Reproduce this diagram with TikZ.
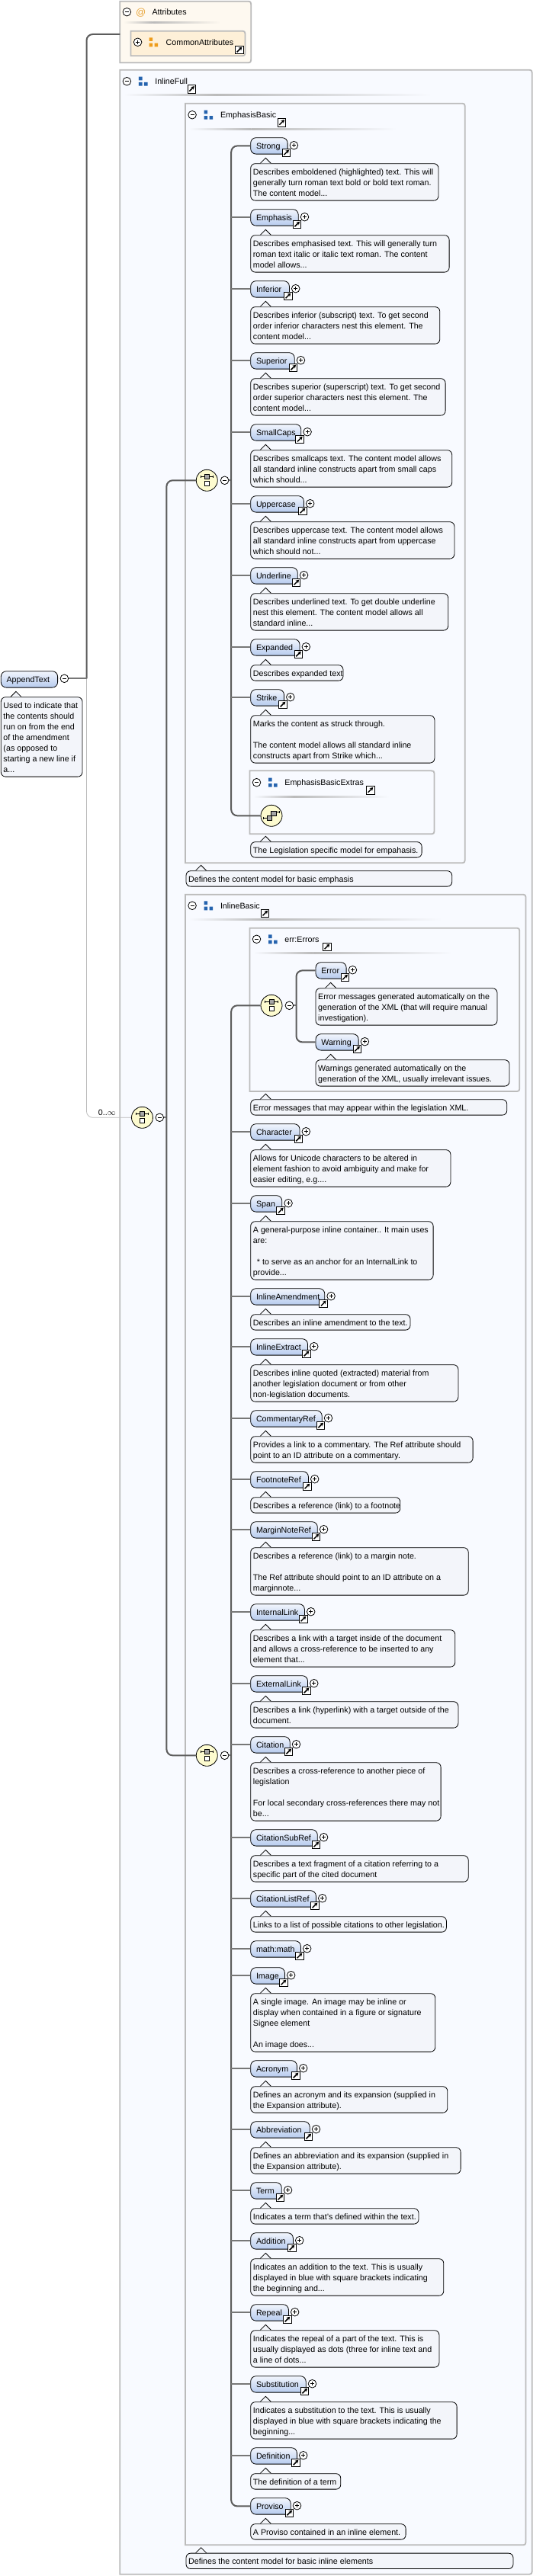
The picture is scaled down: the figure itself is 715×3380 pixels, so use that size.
\documentclass[tikz,border=0pt]{standalone}
\usepackage{fontspec}
\setmainfont{Liberation Sans}
\usetikzlibrary{arrows.meta}

\definecolor{grpline}{HTML}{BBBBBB}
\definecolor{grpfill}{HTML}{F8FAFF}
\definecolor{attrfill}{HTML}{FEF9F0}
\definecolor{commfill}{HTML}{FEF0D8}
\definecolor{notefill}{HTML}{F3F5FA}
\definecolor{elemtop}{HTML}{F2F6FD}
\definecolor{elembot}{HTML}{B6CBEE}
\definecolor{markfill}{HTML}{FDFBCF}
\definecolor{trunkcol}{HTML}{5C5C5C}
\definecolor{branchcol}{HTML}{777777}
\definecolor{blueicon}{HTML}{2563AE}
\definecolor{orangeicon}{HTML}{EE9C1A}
\definecolor{atcol}{HTML}{E8A63C}

\newcommand{\dgfont}{\fontsize{10.7}{14}\selectfont}

\tikzset{
    x=1pt, y=-1pt,
    every node/.style={font=\dgfont, text=black},
    grpbox/.style={draw=grpline, line width=1.8pt},
    trunk/.style={draw=trunkcol, line width=2pt, rounded corners=8pt},
    branch/.style={draw=branchcol, line width=1.9pt},
    thinline/.style={draw=grpline, line width=0.8pt, rounded corners=8pt},
    elemnode/.style={draw=black, line width=0.8pt, rounded corners=7pt, inner sep=0pt,
        anchor=north west, minimum height=21.4pt, text height=9pt, text depth=1pt,
        top color=elemtop, bottom color=elembot},
    notenode/.style={draw=black, line width=0.8pt, rounded corners=6pt, fill=notefill,
        inner xsep=3.2pt, inner ysep=3.2pt, anchor=north west},
    titletext/.style={anchor=west, inner sep=0pt, text height=9pt, text depth=1pt},
    pmplus/.style={circle, draw=black, fill=white, line width=0.8pt, minimum size=10.6pt, inner sep=0pt,
        path picture={\draw[line width=0.8pt] (-2.6,0) -- (2.6,0) (0,-2.6) -- (0,2.6);}},
    pmminus/.style={circle, draw=black, fill=white, line width=0.8pt, minimum size=10.6pt, inner sep=0pt,
        path picture={\draw[line width=0.8pt] (-2.6,0) -- (2.6,0);}},
    linkbox/.style={draw=black, fill=white, line width=0.8pt, minimum size=10.6pt, inner sep=0pt,
        path picture={\draw[line width=1.5pt, -{Stealth[length=4.2pt,width=5pt]}] (-3,3) -- (3.6,-3.6);}},
    grpicon/.style={minimum size=13pt, inner sep=0pt,
        path picture={\fill[#1] (-6,-6) rectangle (-1.4,-1.3) (-6,1.3) rectangle (-1.4,6) (1,1.3) rectangle (5.6,6);}},
    seqmark/.style={circle, draw=black, fill=markfill, line width=0.8pt, minimum size=28pt, inner sep=0pt,
        path picture={
            \draw[line width=0.8pt] (-8.3,-6.6) -- (-8.3,-3.8) (-8.3,-5.2) -- (8.3,-5.2) (8.3,-6.6) -- (8.3,-3.8);
            \draw[line width=0.6pt, fill=gray!70] (-3,-8) rectangle (3,-2.4);
            \draw[line width=0.8pt, fill=white] (-3,0.8) rectangle (3,6.8);}},
    choicemark/.style={circle, draw=black, fill=markfill, line width=0.8pt, minimum size=28pt, inner sep=0pt,
        path picture={
            \draw[line width=0.8pt] (-10.6,1.4) -- (-10.6,4.2) (-10.6,2.8) -- (-6,2.8) (10.6,-6) -- (10.6,-3.2) (10.6,-4.6) -- (6,-4.6);
            \draw[line width=0.6pt, fill=gray!70] (-0.5,-5.8) rectangle (5.8,0.4);
            \draw[line width=0.6pt, fill=gray!70] (-6,-0.4) rectangle (0.2,5.8);}}
}

% right hand corners of a group box are round
\newcommand{\grpframe}[5]{%
    \pgfmathsetmacro\grpa{#3-7}
    \pgfmathsetmacro\grpb{#2+7}
    \pgfmathsetmacro\grpc{#4-7}
    \draw[grpbox, fill=#5] (#1,#2) -- (\grpa,#2) .. controls (#3,#2) .. (#3,\grpb) -- (#3,\grpc)
        .. controls (#3,#4) .. (\grpa,#4) -- (#1,#4) -- cycle;
}
% fades out at both ends, darkest about a third along
\newcommand{\sepline}[4]{%
    \pgfmathsetmacro\sepm{#1+0.3*(#2-(#1))}
    \shade[left color=#4, right color=grpline] (#1,#3-1) rectangle (\sepm,#3+1);
    \shade[left color=grpline, right color=#4] (\sepm,#3-1) rectangle (#2,#3+1);
}
\newcommand{\grphead}[6]{%
    \node[pmminus] (pm#1) at (#3+9.1,#4) {};
    \node[grpicon=blueicon] (ic#1) at (#3+30.6,#4) {};
    \node[titletext] (ti#1) at (#3+45.8,#4) {#2};
    \node[linkbox] (lk#1) at (#5,#4+10) {};
    \sepline{#3+5}{#6}{#4+18.3}{grpfill}
}
\newcommand{\notebox}[5]{%
    \pgfmathsetmacro\notew{#4-#2-6.4}
    \node[notenode] (#1) at (#2,#3) {\makebox[\notew pt][l]{\setbox\strutbox=\hbox{\vrule height 11.2pt depth 2.8pt width 0pt}\begin{tabular}{@{}l@{}}#5\end{tabular}}};
    \fill[notefill] ([xshift=13pt]#1.north west) -- ([xshift=20pt,yshift=7pt]#1.north west) -- ([xshift=27pt]#1.north west) -- cycle;
    \draw[line width=0.8pt] ([xshift=13pt]#1.north west) -- ([xshift=20pt,yshift=7pt]#1.north west) -- ([xshift=27pt]#1.north west);
}
\newcommand{\elem}[5]{%
    \pgfmathsetmacro\elemw{#5-#3}
    \node[elemnode, minimum width=\elemw pt] (el#1) at (#3,#4) {\makebox[\elemw pt][l]{\hspace{7.3pt}#2}};
    \node[pmplus] (pl#1) at (#5+8.7,#4+10.4) {};
    \node[linkbox] (lk#1) at (#5-1.4,#4+20) {};
}
\newcommand{\elemnote}[7]{%
    \elem{#1}{#2}{#3}{#4}{#5}
    \notebox{nt#1}{#3}{#4+34}{#6}{#7}
}

\begin{document}
\begin{tikzpicture}
    \useasboundingbox (0,0) rectangle (715,3380);

    % attributes
    \grpframe{157.3}{1.7}{329.2}{82.3}{attrfill}
    \node[pmminus] (pmAttr) at (166.4,15.7) {};
    \node[inner sep=0pt, text=atcol] (icAttr) at (184.7,16.5) {\fontsize{13}{14}\selectfont @};
    \node[titletext] (tiAttr) at (199.3,15.7) {Attributes};
    \sepline{162}{289.6}{30}{attrfill}
    \grpframe{171.5}{40.7}{321.5}{73.3}{commfill}
    \node[pmplus] (plComm) at (180.6,55.3) {};
    \node[grpicon=orangeicon] (icComm) at (201.6,55.3) {};
    \node[titletext] (tiComm) at (217.5,55.3) {CommonAttributes};
    \node[linkbox] (lkComm) at (313.7,65.3) {};
    \coordinate (attrW) at (157.3,45);

    % groups
    \grpframe{157.3}{91.7}{697.7}{3377.7}{grpfill}
    \grphead{Full}{InlineFull}{157.3}{106.7}{251.3}{565.4}
    \grpframe{243}{135.7}{609.7}{1132.3}{grpfill}
    \grphead{Emph}{EmphasisBasic}{243}{150.7}{369.4}{520}
    \grpframe{243}{1173.7}{689.5}{3339.3}{grpfill}
    \grphead{Basic}{InlineBasic}{243}{1188.3}{347.5}{579}
    \grpframe{327.4}{1011.3}{569.5}{1094.3}{grpfill}
    \grphead{Extras}{EmphasisBasicExtras}{327.4}{1026.7}{485.6}{510.7}
    \grpframe{327.4}{1217.7}{681.3}{1432}{grpfill}
    \grphead{Errors}{err:Errors}{327.4}{1232.3}{428.6}{593}

    % root
    \node[elemnode, minimum width=74.3pt] (elAppend) at (0.9,880.3) {\makebox[74.3pt][l]{\hspace{7.3pt}AppendText}};
    \node[pmminus] (pmAppend) at (84.4,890.3) {};
    \notebox{ntAppend}{0.9}{914.3}{107.6}{Used to indicate that\\the contents should\\run on from the end\\of the amendment\\(as opposed to\\starting a new line if\\a...}

    % emphasis
    \elemnote{Strong}{Strong}{328.3}{180.3}{376.7}{574.6}{Describes emboldened (highlighted) text. This will\\generally turn roman text bold or bold text roman.\\The content model...}
    \elemnote{Emphasis}{Emphasis}{328.3}{274.3}{390.8}{588.7}{Describes emphasised text. This will generally turn\\roman text italic or italic text roman. The content\\model allows...}
    \elemnote{Inferior}{Inferior}{328.3}{368.3}{379}{576.4}{Describes inferior (subscript) text. To get second\\order inferior characters nest this element. The\\content model...}
    \elemnote{Superior}{Superior}{328.3}{462.3}{385.8}{583.7}{Describes superior (superscript) text. To get second\\order superior characters nest this element. The\\content model...}
    \elemnote{SmallCaps}{SmallCaps}{328.3}{556.3}{394.4}{592.3}{Describes smallcaps text. The content model allows\\all standard inline constructs apart from small caps\\which should...}
    \elemnote{Uppercase}{Uppercase}{328.3}{650.3}{398}{595.5}{Describes uppercase text. The content model allows\\all standard inline constructs apart from uppercase\\which should not...}
    \elemnote{Underline}{Underline}{328.3}{744.3}{389.9}{587.3}{Describes underlined text. To get double underline\\nest this element. The content model allows all\\standard inline...}
    \elemnote{Expanded}{Expanded}{328.3}{838.3}{392.6}{449.6}{Describes expanded text}
    \elemnote{Strike}{Strike}{328.3}{904.3}{372.1}{569.5}{Marks the content as struck through.\\ \\The content model allows all standard inline\\constructs apart from Strike which...}
    \node[choicemark] (chExtras) at (356,1070.3) {};
    \notebox{ntExtras}{328.3}{1104.3}{552.7}{The Legislation specific model for empahasis.}
    \notebox{ntEmph}{243.6}{1142.3}{592.3}{Defines the content model for basic emphasis}

    % errors
    \node[seqmark] (sqErrors) at (356,1319.3) {};
    \node[pmminus] (mnErrors) at (379.4,1319.3) {};
    \elemnote{Error}{Error}{413.6}{1262.3}{453.7}{651.6}{Error messages generated automatically on the\\generation of the XML (that will require manual\\investigation).}
    \elemnote{Warning}{Warning}{413.6}{1356.3}{469.7}{667.6}{Warnings generated automatically on the\\generation of the XML, usually irrelevant issues.}
    \notebox{ntErrors}{328.3}{1442.3}{664.4}{Error messages that may appear within the legislation XML.}

    % inline
    \elemnote{Character}{Character}{328.3}{1474.3}{392.6}{590.5}{Allows for Unicode characters to be altered in\\element fashion to avoid ambiguity and make for\\easier editing, e.g....}
    \elemnote{Span}{Span}{328.3}{1568.3}{369.4}{567.7}{A general-purpose inline container.. It main uses\\are:\\ \\\hspace*{5pt}* to serve as an anchor for an InternalLink to\\provide...}
    \elemnote{InlineAmendment}{InlineAmendment}{328.3}{1690.3}{425.4}{537.6}{Describes an inline amendment to the text.}
    \elemnote{InlineExtract}{InlineExtract}{328.3}{1756.3}{403.1}{600.5}{Describes inline quoted (extracted) material from\\another legislation document or from other\\non-legislation documents.}
    \elemnote{CommentaryRef}{CommentaryRef}{328.3}{1850.3}{421.8}{619.7}{Provides a link to a commentary. The Ref attribute should\\point to an ID attribute on a commentary.}
    \elemnote{FootnoteRef}{FootnoteRef}{328.3}{1930.3}{404}{524.4}{Describes a reference (link) to a footnote}
    \elemnote{MarginNoteRef}{MarginNoteRef}{328.3}{1996.3}{415.9}{613.8}{Describes a reference (link) to a margin note.\\ \\The Ref attribute should point to an ID attribute on a\\marginnote...}
    \elemnote{InternalLink}{InternalLink}{328.3}{2104.3}{399}{596.4}{Describes a link with a target inside of the document\\and allows a cross-reference to be inserted to any\\element that...}
    \elemnote{ExternalLink}{ExternalLink}{328.3}{2198.3}{403.1}{600.5}{Describes a link (hyperlink) with a target outside of the\\document.}
    \elemnote{Citation}{Citation}{328.3}{2278.3}{379.8}{577.7}{Describes a cross-reference to another piece of\\legislation\\ \\For local secondary cross-references there may not\\be...}
    \elemnote{CitationSubRef}{CitationSubRef}{328.3}{2400.3}{415.9}{613.8}{Describes a text fragment of a citation referring to a\\specific part of the cited document}
    \elemnote{CitationListRef}{CitationListRef}{328.3}{2480.3}{414}{585}{Links to a list of possible citations to other legislation.}
    \elem{mathmath}{math:math}{328.3}{2546.3}{394}
    \elemnote{Image}{Image}{328.3}{2581.3}{373}{570.4}{A single image. An image may be inline or\\display when contained in a figure or signature\\Signee element\\ \\An image does...}
    \elemnote{Acronym}{Acronym}{328.3}{2703.3}{389}{586.4}{Defines an acronym and its expansion (supplied in\\the Expansion attribute).}
    \elemnote{Abbreviation}{Abbreviation}{328.3}{2783.3}{405.8}{603.7}{Defines an abbreviation and its expansion (supplied in\\the Expansion attribute).}
    \elemnote{Term}{Term}{328.3}{2863.3}{368.9}{548.6}{Indicates a term that's defined within the text.}
    \elemnote{Addition}{Addition}{328.3}{2929.3}{384}{581.4}{Indicates an addition to the text. This is usually\\displayed in blue with square brackets indicating\\the beginning and...}
    \elemnote{Repeal}{Repeal}{328.3}{3023.3}{378}{575.5}{Indicates the repeal of a part of the text. This is\\usually displayed as dots (three for inline text and\\a line of dots...}
    \elemnote{Substitution}{Substitution}{328.3}{3117.3}{400.8}{598.7}{Indicates a substitution to the text. This is usually\\displayed in blue with square brackets indicating the\\beginning...}
    \elemnote{Definition}{Definition}{328.3}{3211.3}{389}{446.4}{The definition of a term}
    \elemnote{Proviso}{Proviso}{328.3}{3277.3}{380.8}{531.7}{A Proviso contained in an inline element.}
    \notebox{ntBasic}{243.6}{3349.7}{672.6}{Defines the content model for basic inline elements}

    % model marks
    \node[seqmark] (sqFull) at (186.5,1466.3) {};
    \node[pmminus] (mnFull) at (209.3,1466.3) {};
    \node[seqmark] (sqEmph) at (271.3,630.3) {};
    \node[pmminus] (mnEmph) at (294.6,630.3) {};
    \node[seqmark] (sqBasic) at (271.3,2303.3) {};
    \node[pmminus] (mnBasic) at (294.6,2303.3) {};
    \node[inner sep=0pt] (lbFull) at (140.4,1459.3) {0..$\infty$};

    % connectors
    \coordinate (rootJ) at (113.5,890.3);
    \coordinate (fullJ) at (218.4,1466.3);
    \coordinate (emphJ) at (303.2,630.3);
    \coordinate (basicJ) at (303.2,2303.3);
    \coordinate (errJ) at (388.5,1319.3);

    \draw[thinline] (rootJ) |- (sqFull.west);
    \draw[trunk] (attrW) -| (rootJ);
    \draw[branch] (pmAppend.east) -- (rootJ);

    \draw[trunk] (sqEmph.west) -| (fullJ) |- (sqBasic.west);
    \draw[branch] (mnFull.east) -- (fullJ);

    \draw[branch] (mnEmph.east) -- (emphJ);
    \draw[branch] (mnBasic.east) -- (basicJ);
    \draw[trunk] (elStrong.west) -| (emphJ) |- (chExtras.west);
    \draw[trunk] (sqErrors.west) -| (basicJ) |- (elProviso.west);

    \draw[branch] (mnErrors.east) -- (errJ);
    \draw[trunk] (elError.west) -| (errJ) |- (elWarning.west);

    \foreach \n in {Emphasis,Inferior,Superior,SmallCaps,Uppercase,Underline,Expanded,Strike,
        Character,Span,InlineAmendment,InlineExtract,CommentaryRef,FootnoteRef,MarginNoteRef,
        InternalLink,ExternalLink,Citation,CitationSubRef,CitationListRef,mathmath,Image,
        Acronym,Abbreviation,Term,Addition,Repeal,Substitution,Definition}
        \draw[branch] (el\n.west) -- ++(-25.1,0);
\end{tikzpicture}
\end{document}
